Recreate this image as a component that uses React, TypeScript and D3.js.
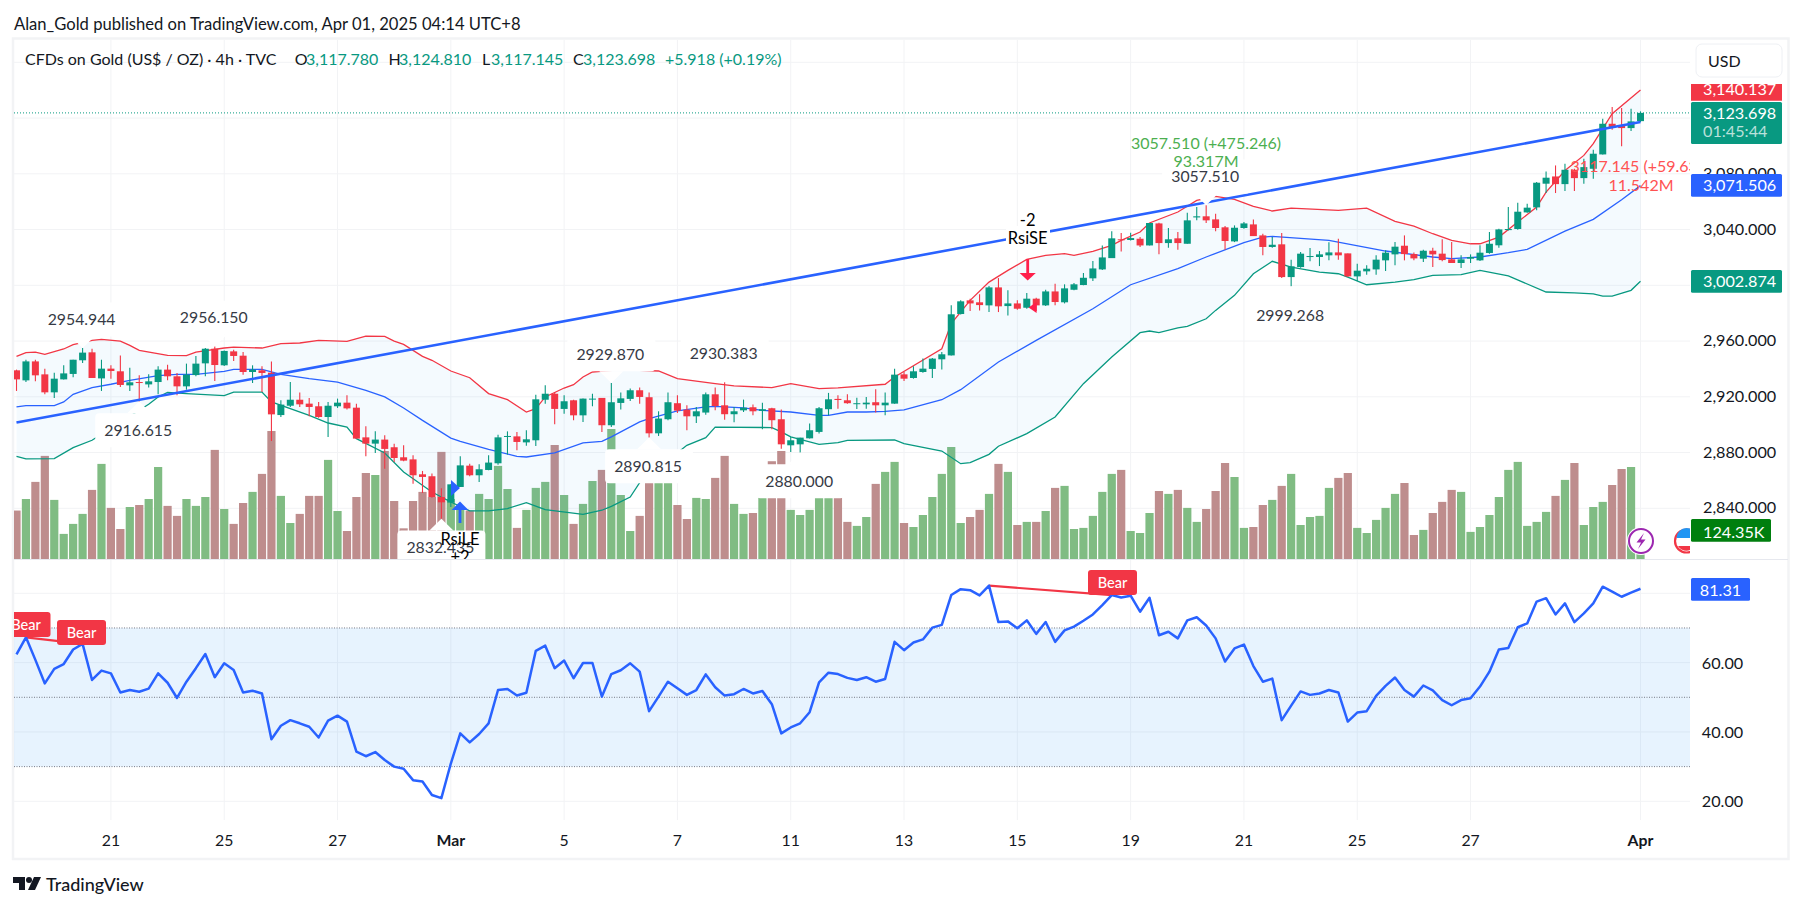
import React from "react";
import * as d3 from "d3";

const opens = [2939.0,2931.8,2945.4,2936.1,2923.2,2932.5,2936.4,2946.2,2951.9,2933.2,2940.2,2938.3,2928.2,2930.6,2928.9,2930.6,2939.5,2934.7,2927.5,2935.6,2944.0,2954.5,2942.6,2952.6,2949.5,2937.8,2939.0,2937.3,2906.9,2913.6,2917.9,2915.1,2913.2,2905.5,2913.2,2915.8,2912.2,2890.9,2886.4,2889.3,2883.8,2876.6,2875.1,2864.4,2863.0,2848.1,2844.1,2855.3,2870.6,2863.7,2867.5,2872.3,2891.2,2891.6,2887.3,2888.8,2917.9,2922.2,2911.3,2917.5,2906.7,2918.2,2919.2,2899.6,2915.6,2918.5,2924.7,2919.7,2893.8,2903.9,2915.4,2910.8,2906.0,2908.7,2921.8,2913.9,2907.5,2910.3,2912.5,2909.9,2911.8,2903.9,2885.2,2885.9,2890.2,2894.8,2911.1,2918.5,2917.5,2914.9,2914.6,2916.1,2913.9,2915.1,2936.1,2933.5,2937.8,2940.0,2946.9,2949.7,2979.4,2989.2,2987.8,2985.6,2998.5,2985.1,2987.0,2983.9,2990.4,2985.6,2995.6,2987.8,2996.8,3000.2,3005.0,3011.4,3019.5,3033.0,3032.5,3033.4,3028.6,3044.4,3030.3,3033.7,3029.8,3048.7,3049.5,3047.3,3041.6,3031.5,3041.1,3043.7,3035.8,3027.5,3029.4,3005.9,3013.1,3020.5,3020.3,3021.5,3023.6,3022.9,3006.4,3010.0,3011.4,3017.9,3022.2,3028.4,3022.4,3019.1,3024.8,3022.7,3018.6,3016.0,3019.1,3017.9,3023.2,3028.7,3039.6,3040.4,3052.3,3055.9,3072.9,3078.1,3072.6,3082.9,3076.9,3083.6,3093.9,3115.9,3114.7,3112.8,3117.78];
const closes = [2932.5,2945.4,2935.4,2923.2,2933.0,2936.8,2946.6,2951.7,2933.5,2940.2,2938.5,2928.5,2930.4,2930.1,2931.1,2939.5,2934.7,2927.5,2935.9,2943.8,2954.5,2942.8,2952.9,2949.3,2937.8,2939.5,2937.1,2907.4,2914.4,2917.9,2914.6,2912.7,2905.5,2913.6,2915.8,2911.7,2890.0,2886.4,2889.3,2882.6,2876.1,2874.2,2863.7,2862.5,2848.1,2844.3,2857.2,2870.8,2863.7,2868.0,2872.8,2890.9,2891.9,2887.6,2889.5,2918.2,2922.2,2911.3,2916.8,2906.7,2918.7,2918.7,2899.6,2916.1,2918.9,2924.7,2919.9,2893.8,2904.4,2916.1,2910.1,2906.0,2909.6,2921.8,2913.4,2907.5,2909.6,2912.2,2909.6,2911.1,2903.2,2885.9,2888.8,2890.7,2896.0,2911.8,2918.2,2917.7,2915.4,2915.4,2915.8,2913.9,2915.8,2935.9,2933.0,2938.3,2940.2,2947.4,2950.5,2979.2,2988.5,2987.0,2985.8,2998.5,2984.9,2987.0,2983.2,2990.4,2985.6,2995.6,2988.0,2997.8,3000.7,3005.4,3012.1,3020.0,3033.7,3032.5,3033.9,3028.6,3044.7,3030.3,3033.0,3030.3,3046.6,3049.5,3046.6,3041.1,3031.8,3041.3,3044.4,3035.3,3027.5,3029.1,3005.9,3013.6,3022.7,3021.0,3022.2,3023.6,3021.5,3006.4,3010.5,3011.9,3018.4,3023.4,3027.7,3022.4,3019.3,3024.8,3022.2,3018.1,3016.0,3018.6,3020.3,3023.4,3029.8,3040.1,3040.4,3052.8,3055.7,3073.6,3077.2,3072.6,3082.9,3076.9,3084.8,3094.4,3115.9,3113.1,3112.8,3117.6,3123.698];
const highs = [2939.5,2946.6,2946.6,2940.2,2937.3,2942.6,2946.6,2954.944,2954.5,2946.6,2942.6,2949.7,2940.9,2935.4,2936.1,2941.9,2943.0,2937.1,2943.8,2949.3,2955.0,2956.15,2953.3,2953.8,2952.1,2942.6,2941.9,2945.4,2917.5,2930.6,2923.0,2919.1,2916.3,2916.3,2918.7,2921.1,2915.1,2898.8,2895.2,2892.4,2886.4,2885.2,2878.0,2866.8,2864.9,2854.3,2857.2,2877.3,2872.0,2871.6,2878.0,2892.8,2895.2,2894.8,2896.0,2921.5,2928.2,2923.4,2921.1,2917.9,2918.7,2922.2,2919.2,2929.87,2923.0,2925.9,2926.6,2923.0,2909.6,2923.0,2921.1,2913.9,2912.7,2923.0,2926.6,2930.383,2912.7,2918.0,2914.4,2915.8,2912.2,2910.8,2891.2,2890.7,2900.8,2912.7,2922.8,2921.1,2921.8,2919.4,2919.9,2925.4,2923.0,2940.2,2937.8,2941.9,2947.4,2947.8,2952.1,2985.6,2989.2,2990.4,2993.5,2999.5,3005.2,2996.4,2989.2,2994.4,2991.1,2996.8,3001.1,3000.7,3001.6,3008.8,3017.4,3028.6,3038.7,3037.5,3037.7,3034.6,3044.7,3044.9,3041.1,3038.2,3052.1,3056.1,3057.51,3051.4,3042.5,3043.0,3045.4,3047.3,3037.0,3034.6,3037.5,3018.4,3023.9,3026.7,3024.6,3030.8,3033.4,3022.9,3015.5,3014.3,3021.5,3025.1,3031.0,3035.8,3023.6,3025.5,3027.0,3033.0,3031.0,3021.5,3022.2,3028.7,3038.2,3040.6,3056.1,3059.3,3058.5,3074.1,3081.7,3086.0,3087.2,3083.6,3090.8,3097.3,3119.5,3127.9,3127.2,3126.7,3124.81];
const lows = [2924.2,2930.6,2931.1,2921.8,2919.1,2932.5,2934.0,2944.2,2933.5,2924.2,2933.0,2927.0,2924.2,2916.615,2926.6,2921.8,2931.8,2921.1,2925.1,2934.7,2934.7,2931.3,2942.1,2945.7,2935.9,2929.9,2923.4,2888.3,2905.5,2912.7,2912.7,2906.0,2905.0,2891.2,2912.0,2910.8,2890.0,2877.3,2879.7,2868.4,2873.2,2873.7,2857.7,2851.0,2847.6,2832.435,2841.0,2855.3,2863.0,2858.9,2867.3,2871.3,2878.5,2881.6,2884.9,2884.7,2915.1,2900.3,2907.9,2903.1,2901.9,2913.2,2894.8,2898.4,2910.8,2917.0,2915.1,2890.815,2891.9,2903.2,2908.4,2896.0,2901.2,2907.2,2910.3,2903.6,2901.7,2909.1,2906.7,2896.7,2896.7,2882.8,2880.4,2880.0,2890.0,2893.6,2906.7,2911.5,2915.1,2911.3,2911.5,2908.7,2906.7,2915.1,2931.3,2933.0,2937.3,2933.5,2939.5,2949.7,2979.1,2981.5,2982.0,2980.8,2980.8,2978.4,2982.5,2983.2,2981.5,2985.1,2985.6,2987.0,2996.4,3000.0,3003.1,3010.9,3019.5,3024.3,3032.2,3027.4,3028.6,3022.2,3027.0,3025.5,3029.8,3046.6,3044.7,3038.7,3025.5,3031.0,3040.6,3035.3,3021.5,3027.0,3005.2,2999.268,3012.6,3017.2,3013.8,3017.9,3018.4,3005.9,3003.1,3007.6,3007.6,3010.2,3014.3,3017.9,3017.9,3016.7,3013.1,3017.2,3016.0,3012.4,3016.0,3017.4,3022.7,3027.0,3039.4,3039.9,3052.1,3053.8,3066.2,3066.2,3067.6,3067.6,3072.9,3076.5,3093.9,3111.6,3099.7,3110.7,3117.145];
const volumesK = [218,270,347,464,266,113,158,203,311,428,230,135,234,243,270,414,239,194,270,239,279,491,225,158,252,302,383,576,284,162,203,284,284,446,216,126,279,387,378,486,261,138,261,302,279,482,270,221,218,293,270,419,315,140,221,320,347,513,288,158,248,351,401,585,288,126,194,360,360,348,243,180,275,270,365,464,248,203,207,300,440,486,221,198,221,279,279,279,167,149,189,338,392,437,162,144,198,279,383,504,162,189,221,293,428,392,153,167,167,216,320,329,135,140,194,302,383,401,126,117,207,306,293,311,230,167,225,306,432,369,140,144,243,266,329,383,153,189,194,320,365,387,140,117,176,230,293,342,108,131,207,257,311,302,122,144,198,279,401,437,149,167,212,284,356,432,153,234,257,333,405,414,124.35];
const volumeColorExceptions = [119];
const rsiValues = [62.4,67.3,60.8,54.0,58.2,59.6,63.8,65.4,55.0,57.7,56.9,51.4,52.1,51.6,52.5,56.9,54.2,49.8,54.5,58.4,62.5,55.8,59.8,57.9,51.4,51.9,51.1,37.9,41.8,43.4,42.5,41.5,38.4,43.3,44.7,43.0,34.3,33.0,34.2,31.9,30.0,29.4,26.1,25.7,21.8,20.9,30.9,39.6,37.0,39.4,42.5,52.1,52.4,50.5,51.3,63.4,64.9,58.4,60.6,55.5,59.9,59.9,50.2,56.7,57.8,59.8,57.4,46.0,50.2,54.5,52.6,50.7,52.1,56.6,52.9,50.5,50.9,52.4,51.1,51.8,48.0,39.6,41.3,42.5,45.7,54.3,57.1,56.7,55.6,55.0,55.8,54.5,55.3,66.0,63.6,65.8,66.7,70.1,70.9,79.5,81.2,80.9,79.4,82.2,71.7,71.9,69.9,72.2,68.3,71.7,66.0,69.3,70.4,72.1,73.9,76.6,79.5,78.8,79.3,74.7,78.7,67.9,68.9,67.0,72.2,73.1,70.7,67.0,60.3,64.1,65.2,59.0,54.5,55.4,43.4,47.6,51.7,50.7,51.1,52.1,51.4,43.0,45.6,46.0,50.4,53.3,55.7,52.1,50.2,53.4,52.0,49.2,47.7,49.2,49.7,53.1,57.4,63.8,64.2,70.2,71.3,77.6,78.6,73.9,77.1,71.7,74.2,77.1,81.9,80.5,79.0,80.2,81.31];

const upperBars = [0,1,2,3,5,6,8,9,11,12,13,16,18,19,22,23,26,28,30,32,35,37,39,40,41,43,44,46,48,50,52,54,55,56,58,59,60,61,64,68,70,74,76,80,82,85,87,92,93,98,99,101,103,105,107,109,111,112,114,116,117,119,120,123,125,127,129,131,133,135,140,143,146,148,150,152,154,155,157,159,161,162,164,166,167,169,172];
const upperValues = [2949.0,2951.7,2952.1,2950.5,2954.3,2957.4,2960.5,2961.2,2960.0,2956.9,2953.3,2949.7,2949.5,2952.1,2955.0,2955.7,2955.0,2958.1,2958.6,2960.5,2959.8,2963.6,2963.4,2960.0,2957.6,2949.0,2946.2,2938.5,2933.7,2922.3,2918.0,2909.1,2911.5,2919.9,2926.3,2928.7,2934.2,2937.8,2939.5,2938.5,2933.0,2929.5,2927.8,2926.6,2929.5,2925.9,2926.4,2929.0,2934.2,2954.5,2972.5,2989.2,3002.3,3010.7,3018.6,3021.5,3022.7,3021.5,3024.3,3028.6,3032.2,3038.2,3044.7,3052.6,3060.9,3063.8,3061.6,3056.6,3053.3,3055.4,3053.8,3055.4,3045.9,3042.5,3037.0,3032.2,3029.8,3029.8,3034.6,3045.4,3056.1,3066.9,3082.4,3093.2,3101.6,3123.1,3140.137];
const basisBars = [0,1,4,5,6,8,10,12,15,17,19,22,23,26,28,31,34,37,39,41,43,46,47,50,53,54,57,60,62,63,66,67,70,73,74,77,79,82,85,86,88,90,92,94,98,100,104,108,114,118,123,126,130,132,133,139,145,150,152,155,158,160,164,167,170,172];
const basisValues = [2912.7,2913.6,2913.6,2916.3,2921.8,2926.6,2929.0,2931.8,2935.2,2936.1,2936.1,2938.3,2939.7,2939.7,2936.1,2933.0,2930.6,2924.6,2919.9,2912.0,2903.1,2890.4,2888.1,2882.3,2877.3,2876.8,2879.7,2886.9,2888.0,2891.2,2902.0,2904.4,2909.9,2912.7,2913.2,2912.0,2910.3,2909.1,2906.7,2906.7,2909.1,2909.1,2909.6,2910.6,2917.9,2925.1,2945.0,2960.5,2983.2,3000.4,3011.9,3020.3,3030.6,3034.6,3035.1,3032.2,3024.6,3020.3,3019.1,3020.3,3023.4,3025.8,3038.9,3047.3,3061.4,3071.506];
const lowerBars = [0,1,4,6,8,14,15,16,18,22,23,26,27,31,33,35,36,39,41,44,46,48,50,52,54,56,60,62,63,65,66,71,73,74,80,81,82,85,87,88,93,94,98,100,101,103,104,107,110,113,116,119,120,121,123,124,126,127,129,131,133,135,138,140,141,143,146,148,150,153,155,158,162,165,167,168,169,171,172];
const lowerValues = [2877.3,2875.4,2875.6,2883.5,2888.8,2914.6,2919.9,2923.2,2922.3,2920.8,2923.4,2923.4,2916.3,2906.7,2901.2,2898.3,2890.0,2879.7,2866.1,2851.7,2844.5,2838.1,2838.1,2839.8,2844.1,2839.0,2835.7,2838.6,2841.4,2848.1,2858.4,2885.2,2890.7,2898.3,2897.9,2894.8,2891.2,2885.9,2887.1,2888.8,2889.0,2886.4,2881.1,2872.0,2872.8,2878.7,2884.5,2893.6,2905.5,2929.4,2948.6,2966.0,2967.2,2966.0,2969.4,2970.6,2976.0,2982.0,2992.8,3008.3,3017.2,3013.1,3009.5,3008.3,3005.9,3000.4,3002.3,3004.0,3007.1,3007.6,3010.7,3006.7,2995.2,2994.5,2993.9,2992.3,2992.3,2996.4,3002.874];

const trendBars = [0, 172];
const trendValues = [2901.5, 3117.1];

const priceTicks = [3160,3120,3080,3040,3000,2960,2920,2880,2840];
const rsiTicks = [80,60,40,20];
const rsiLevels = [70,50,30];
const timeBars = [10,22,34,46,58,70,82,94,106,118,130,142,154,172];
const timeLabels = ["21","25","27","Mar","5","7","11","13","15","19","21","25","27","Apr"];
const highLabelBars = [7,21,63,75,126];
const lowLabelBars = [13,45,67,83,135];

const X0 = 14, X1 = 1690, MAIN_TOP = 40, MAIN_BOTTOM = 559, RSI_BOTTOM = 820;
const FONT = "Lato, 'Noto Sans', sans-serif";
const UP = "#089981", DOWN = "#f23645", BLUE = "#2962ff", GRID = "#f2f3f5";

const x = d3.scaleLinear().domain([0, 172]).range([16.5, 1640.5]);
const y = d3.scaleLinear().domain([2840, 3160]).range([508.3, 62.3]);
const yVol = d3.scaleLinear().domain([0, 900]).range([559, 359]);
const yRsi = d3.scaleLinear().domain([20, 80]).range([801.3, 593.3]);

const pts = (b: number[], v: number[]) => b.map((d, i) => [x(d), y(v[i])] as [number, number]);
const line = d3.line();
const upperPts = pts(upperBars, upperValues);
const basisPts = pts(basisBars, basisValues);
const lowerPts = pts(lowerBars, lowerValues);
const bandPath = line([...upperPts, ...[...lowerPts].reverse()]) + "Z";
const rsiPath = line(rsiValues.map((v, i) => [x(i), yRsi(v)] as [number, number]))!;

const fmt = d3.format(",.3f");
const T = (p: any) => <text fontFamily={FONT} {...p} />;

function PriceLabel({ bar, kind }: { bar: number; kind: "high" | "low" }) {
  const cx = x(bar);
  const tip = kind === "high" ? y(highs[bar]) : y(lows[bar]);
  const s = kind === "high" ? -1 : 1;
  const near = tip + s * 11.7;
  const far = tip + s * 45.7;
  const top = Math.min(near, far);
  return (
    <g>
      <path d={`M${cx},${tip}L${cx + 12},${near}L${cx - 12},${near}Z`} fill="#fff" />
      <rect x={cx - 44} y={top} width={88} height={34} rx={4} fill="#fff" />
      <T x={cx - 1} y={(near + far) / 2 - 1} textAnchor="middle" dominantBaseline="central" fontSize={15.8} fill="#363a45">
        {(kind === "high" ? highs[bar] : lows[bar]).toFixed(3)}
      </T>
    </g>
  );
}

function Pill({ y0, y1, fill, w = 91 }: any) {
  return <rect x={1691} y={y0} width={w} height={y1 - y0} fill={fill} rx={1.5} />;
}

export default function App() {
  const n = opens.length;
  return (
    <svg width={1803} height={907} style={{ position: "fixed", left: 0, top: 0, display: "block", background: "#fff" }}>
      <defs>
        <clipPath id="main"><rect x={X0} y={MAIN_TOP} width={X1 - X0} height={MAIN_BOTTOM - MAIN_TOP} /></clipPath>
        <clipPath id="rsi"><rect x={X0} y={MAIN_BOTTOM + 1} width={X1 - X0} height={RSI_BOTTOM - MAIN_BOTTOM} /></clipPath>
        <clipPath id="pillTop"><rect x={1691} y={84} width={91} height={16.7} /></clipPath>
      </defs>

      <T x={14} y={23.5} dominantBaseline="central" fontSize={16.6} fill="#131722">Alan_Gold published on TradingView.com, Apr 01, 2025 04:14 UTC+8</T>

      <rect x={13} y={38.5} width={1775.5} height={820.5} fill="none" stroke="#f2f3f5" strokeWidth={2.5} />

      {/* grid */}
      <g stroke={GRID} strokeWidth={1}>
        {timeBars.map((b) => <line key={b} x1={x(b)} x2={x(b)} y1={MAIN_TOP} y2={RSI_BOTTOM} />)}
        {priceTicks.map((p) => <line key={p} x1={X0} x2={X1} y1={y(p)} y2={y(p)} />)}
        {rsiTicks.map((p) => <line key={p} x1={X0} x2={X1} y1={yRsi(p)} y2={yRsi(p)} />)}
      </g>
      <line x1={X0} x2={1788} y1={559.5} y2={559.5} stroke="#e6e8ee" />

      {/* main pane */}
      <g clipPath="url(#main)">
        <line x1={X0} x2={X1} y1={y(closes[n - 1])} y2={y(closes[n - 1])} stroke={UP} strokeDasharray="1 2" />
        {volumesK.map((v, i) => {
          const up = closes[i] >= opens[i] || volumeColorExceptions.includes(i);
          return <rect key={i} x={x(i) - 4.1} y={yVol(v)} width={8.2} height={559 - yVol(v)} fill={up ? "#80bc83" : "#be8d8d"} />;
        })}
        <path d={bandPath} fill="#2196f3" fillOpacity={0.05} />
        <path d={line(upperPts)!} fill="none" stroke={DOWN} strokeWidth={1.3} />
        <path d={line(basisPts)!} fill="none" stroke={BLUE} strokeWidth={1.3} />
        <path d={line(lowerPts)!} fill="none" stroke={UP} strokeWidth={1.3} />
        {opens.map((o, i) => {
          const c = closes[i];
          const col = c >= o ? UP : DOWN;
          const top = y(Math.max(o, c));
          const bot = y(Math.min(o, c));
          return (
            <g key={i}>
              <line x1={x(i)} x2={x(i)} y1={y(highs[i])} y2={y(lows[i])} stroke={col} strokeWidth={1.1} />
              <rect x={x(i) - 3.5} y={top} width={7} height={Math.max(bot - top, 1)} fill={col} />
            </g>
          );
        })}
        <path d={line(trendBars.map((b, i) => [x(b), y(trendValues[i])] as [number, number]))!} stroke={BLUE} strokeWidth={2.6} fill="none" />

        {highLabelBars.map((b) => <PriceLabel key={b} bar={b} kind="high" />)}
        {lowLabelBars.map((b) => <PriceLabel key={b} bar={b} kind="low" />)}

        {/* signals */}
        <path d="M451,480L460,488L451,496Z" fill={BLUE} />
        <g fill={BLUE}>
          <rect x={458.6} y={509} width={2.8} height={14} />
          <path d="M451.6,510L460,501.6L468.4,510Z" />
        </g>
        <T x={460} y={538.5} textAnchor="middle" dominantBaseline="central" fontSize={16.5} fill="#000">RsiLE</T>
        <T x={460} y={557} textAnchor="middle" dominantBaseline="central" fontSize={16.5} fill="#000">+2</T>

        <rect x={1006} y={226} width={44} height={24} fill="#fff" />
        <T x={1027.7} y={219.5} textAnchor="middle" dominantBaseline="central" fontSize={16.5} fill="#000">-2</T>
        <T x={1027.7} y={237.5} textAnchor="middle" dominantBaseline="central" fontSize={16.5} fill="#000">RsiSE</T>
        <g fill="#ff1f4b">
          <rect x={1026.3} y={259} width={2.8} height={16} />
          <path d="M1019.6,273L1035.8,273L1027.7,280.5Z" />
          <path d="M1036.6,302L1028.6,307.5L1036.6,313Z" />
        </g>

        <T x={1206} y={142} textAnchor="middle" dominantBaseline="central" fontSize={16} fill="#4caf50">3057.510 (+475.246)</T>
        <T x={1206} y={160.5} textAnchor="middle" dominantBaseline="central" fontSize={16} fill="#4caf50">93.317M</T>
        <T x={1641} y={165.5} textAnchor="middle" dominantBaseline="central" fontSize={16} fill="#ff5252">3117.145 (+59.635)</T>
        <T x={1641} y={184.5} textAnchor="middle" dominantBaseline="central" fontSize={16} fill="#ff5252">11.542M</T>

        {/* event icons */}
        <circle cx={1641} cy={541} r={14} fill="#fff" />
        <circle cx={1641} cy={541} r={12} fill="#fff" stroke="#9c27b0" strokeWidth={2} />
        <path d="M1644,533L1636.5,542.5L1641,542.5L1638,549L1645.5,539.5L1641,539.5Z" fill="#9c27b0" />
        <circle cx={1686.5} cy={541} r={14} fill="#fff" />
        <circle cx={1686.5} cy={541} r={11.5} fill="#fff" stroke="#f23645" strokeWidth={2.2} />
        <path d="M1676.5,538A10,10 0 0 1 1696.5,538Z" fill="#2196f3" />
        <path d="M1678,546L1695,546A10,10 0 0 1 1678,546Z" fill="#f23645" />
      </g>

      {/* rsi pane */}
      <rect x={X0} y={yRsi(70)} width={X1 - X0} height={yRsi(30) - yRsi(70)} fill="#2196f3" fillOpacity={0.11} />
      <g stroke="#787b86" strokeDasharray="1 1.5" strokeWidth={1}>
        {rsiLevels.map((l) => <line key={l} x1={X0} x2={X1} y1={yRsi(l)} y2={yRsi(l)} />)}
      </g>
      <g clipPath="url(#rsi)">
        <path d={line([[x(1), yRsi(rsiValues[1])], [x(7), yRsi(rsiValues[7])]])!} stroke={DOWN} strokeWidth={2.2} fill="none" />
        <path d={line([[x(103), yRsi(rsiValues[103])], [x(116), yRsi(rsiValues[116])]])!} stroke={DOWN} strokeWidth={2.2} fill="none" />
        <path d={rsiPath} stroke={BLUE} strokeWidth={2.5} fill="none" strokeLinejoin="round" />
        {[[26, 612], [81.5, 620], [1112.5, 570]].map(([cx, top]) => (
          <g key={cx}>
            <rect x={cx - 24.5} y={top} width={49} height={25} rx={3} fill={DOWN} />
            <T x={cx} y={top + 12} textAnchor="middle" dominantBaseline="central" fontSize={14.5} fontWeight={500} fill="#fff">Bear</T>
          </g>
        ))}
      </g>

      {/* time axis */}
      {timeBars.map((b, i) => (
        <T key={b} x={x(b)} y={839.5} textAnchor="middle" dominantBaseline="central" fontSize={15.8}
           fill="#131722" fontWeight={timeLabels[i] === "Mar" || timeLabels[i] === "Apr" ? 700 : 400}>{timeLabels[i]}</T>
      ))}

      {/* price axis */}
      {priceTicks.map((p) => (
        <T key={p} x={1703} y={y(p) - 1.5} dominantBaseline="central" fontSize={16.2} fill="#131722">{fmt(p)}</T>
      ))}
      {[60, 40, 20].map((p) => (
        <T key={p} x={1722.5} y={yRsi(p) - 0.5} textAnchor="middle" dominantBaseline="central" fontSize={16.2} fill="#131722">{p.toFixed(2)}</T>
      ))}

      <rect x={1696} y={44} width={86} height={33} rx={6} fill="#fff" stroke="#eef0f4" />
      <T x={1708} y={60.5} dominantBaseline="central" fontSize={16} fill="#131722">USD</T>

      <g clipPath="url(#pillTop)">
        <rect x={1691} y={78} width={91} height={24} fill={DOWN} />
        <T x={1703} y={88.5} dominantBaseline="central" fontSize={16.2} fill="#fff">{fmt(upperValues[upperValues.length - 1])}</T>
      </g>
      <Pill y0={102} y1={144} fill={UP} />
      <T x={1703} y={112} dominantBaseline="central" fontSize={16.2} fill="#fff">{fmt(closes[n - 1])}</T>
      <T x={1703} y={130.5} dominantBaseline="central" fontSize={16.2} fill="#fff" fillOpacity={0.72}>01:45:44</T>
      <Pill y0={174} y1={196.7} fill={BLUE} />
      <T x={1703} y={184} dominantBaseline="central" fontSize={16.2} fill="#fff">{fmt(basisValues[basisValues.length - 1])}</T>
      <Pill y0={270} y1={292.7} fill={UP} />
      <T x={1703} y={280} dominantBaseline="central" fontSize={16.2} fill="#fff">{fmt(lowerValues[lowerValues.length - 1])}</T>
      <Pill y0={519} y1={541.7} fill="#007f0e" w={80} />
      <T x={1703} y={531} dominantBaseline="central" fontSize={16.2} fill="#fff">{volumesK[n - 1]}K</T>
      <Pill y0={578} y1={600.7} fill={BLUE} w={59} />
      <T x={1720.5} y={589.5} textAnchor="middle" dominantBaseline="central" fontSize={16.2} fill="#fff">{rsiValues[n - 1].toFixed(2)}</T>

      {/* header legend */}
      <T x={25} y={58.5} dominantBaseline="central" fontSize={16} fill="#131722">CFDs on Gold (US$ / OZ) · 4h · TVC</T>
      {[
        ["O", 294.7, "3,117.780", 306],
        ["H", 388.4, "3,124.810", 399],
        ["L", 482, "3,117.145", 491],
        ["C", 573, "3,123.698", 583],
      ].map(([k, a, v, b]: any) => (
        <g key={k}>
          <T x={a} y={58.5} dominantBaseline="central" fontSize={16} fill="#131722">{k}</T>
          <T x={b} y={58.5} dominantBaseline="central" fontSize={16} fill={UP}>{v}</T>
        </g>
      ))}
      <T x={665} y={58.5} dominantBaseline="central" fontSize={16} fill={UP}>+5.918 (+0.19%)</T>

      {/* logo */}
      <g fill="#131722">
        <path d="M13,877H25V890H19V883H13Z" />
        <circle cx={29} cy={880} r={3} />
        <path d="M34,877H41L35,890H28Z" />
      </g>
      <T x={46} y={884} dominantBaseline="central" fontSize={18} fontWeight={500} fill="#131722">TradingView</T>
    </svg>
  );
}
